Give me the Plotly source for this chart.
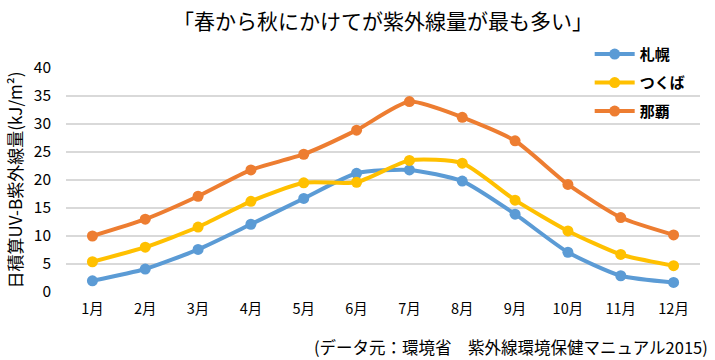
import plotly.graph_objects as go

months = ["1月", "2月", "3月", "4月", "5月", "6月", "7月", "8月", "9月", "10月", "11月", "12月"]
sapporo = [2.0, 4.1, 7.6, 12.1, 16.7, 21.2, 21.8, 19.8, 13.9, 7.1, 2.9, 1.7]
tsukuba = [5.4, 8.0, 11.6, 16.2, 19.5, 19.6, 23.5, 23.0, 16.4, 10.9, 6.7, 4.7]
naha = [10.0, 13.0, 17.1, 21.8, 24.6, 28.9, 34.0, 31.2, 27.0, 19.2, 13.3, 10.2]
series_names = ["札幌", "つくば", "那覇"]
colors = ["#5B9BD5", "#FFC000", "#ED7D31"]
y_ticks = [0, 5, 10, 15, 20, 25, 30, 35, 40]

FONT = "Noto Sans CJK JP"

fig = go.Figure()
for name, vals, c in zip(series_names, [sapporo, tsukuba, naha], colors):
    fig.add_trace(go.Scatter(
        x=months, y=vals, name=name, mode="lines+markers",
        line=dict(color=c, width=4, shape="spline", smoothing=0.6),
        marker=dict(color=c, size=11),
        legendgroup=name,
    ))

# paper area: y from 30 (top) to 292 (bottom); axis spans 68..292
fig.update_layout(
    width=715, height=360,
    margin=dict(l=66, r=15, t=30, b=68),
    paper_bgcolor="white", plot_bgcolor="white",
    font=dict(family=FONT, color="#000000"),
    title=dict(text="「春から秋にかけてが紫外線量が最も多い」", x=0.5, xanchor="center",
               xref="paper", y=0.94, yanchor="middle", font=dict(size=21, family=FONT, color="#000000")),
    showlegend=True,
    legend=dict(x=0.826, y=0.97, xanchor="left", yanchor="top",
                bgcolor="rgba(0,0,0,0)", font=dict(size=15, family=FONT, weight="bold"),
                tracegroupgap=6, itemwidth=40),
    xaxis=dict(type="category", range=[-0.5, 11.5], showgrid=False, showline=False,
               ticks="", tickfont=dict(size=14.5, family=FONT), ticklabelstandoff=6),
    yaxis=dict(range=[0, 40], domain=[0, 224 / 262], tickvals=y_ticks, showgrid=True,
               gridcolor="#D9D9D9", gridwidth=1.5,
               zeroline=False, showline=False, ticks="", ticklabelstandoff=14,
               tickfont=dict(size=15.5, family=FONT),
               title=dict(text="日積算UV-B紫外線量(kJ/m²)", font=dict(size=17, family=FONT), standoff=6)),
)

fig.add_annotation(text="(データ元：環境省　紫外線環境保健マニュアル2015)", xref="paper", yref="paper",
                   x=(710 - 66) / 634, y=-55 / 262, xanchor="right", yanchor="middle", showarrow=False,
                   font=dict(size=16.5, family=FONT, color="#000000"))

fig.write_html("out.html", post_script="document.body.style.margin='0';",
               config={"displayModeBar": False})
